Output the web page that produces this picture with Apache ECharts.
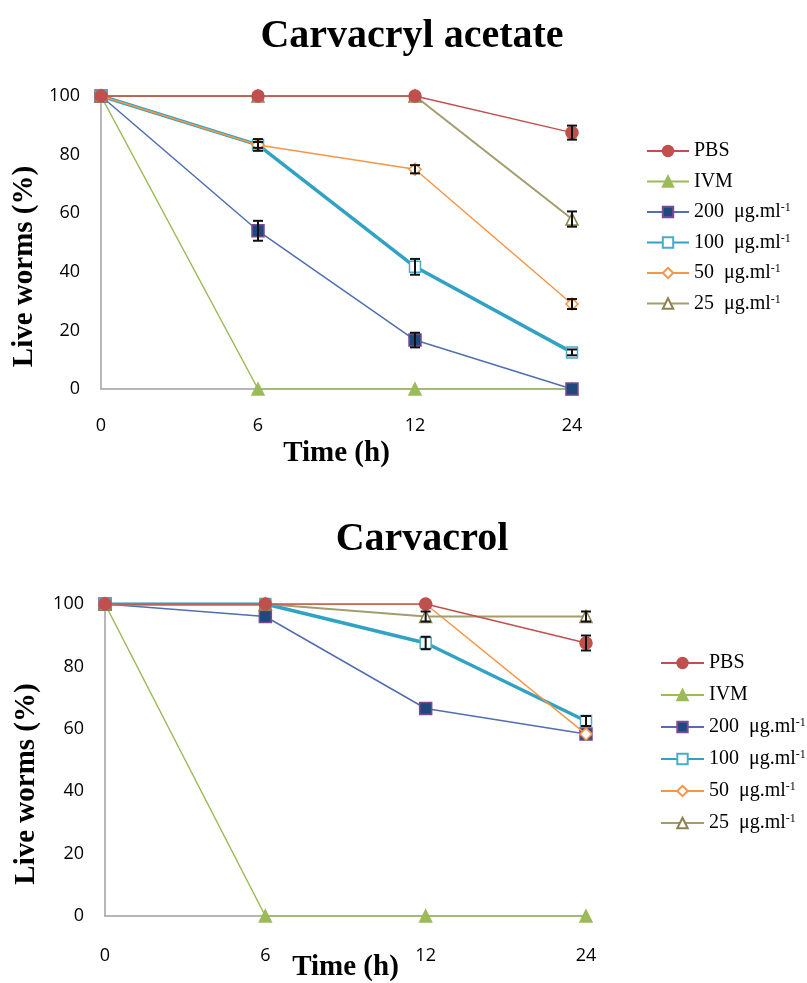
<!DOCTYPE html>
<html>

<head>
    <meta charset="UTF-8">
    <title>Carvacryl acetate / Carvacrol</title>
    <script src="https://cdn.jsdelivr.net/npm/echarts@6/dist/echarts.min.js"></script>
    <style>
        body { margin: 0; background: #fff; }
    </style>
</head>

<body>
    <div id="main" style="width: 807px; height: 983px;"></div>

    <script>
        // time points (h), shown as evenly spaced categories
        var hours = ['0', '6', '12', '24'];
        var yTicks = [0, 20, 40, 60, 80, 100];

        var names = ['PBS', 'IVM', '200  μg.ml-1', '100  μg.ml-1', '50  μg.ml-1', '25  μg.ml-1'];

        // Carvacryl acetate (top)
        var acetatePBS = [100, 100, 100, 87.5];
        var acetateIVM = [100, 0, 0, 0];
        var acetate200 = [100, 54, 16.7, 0];
        var acetate100 = [100, 83.3, 41.7, 12.5];
        var acetate50 = [100, 83.3, 75, 29];
        var acetate25 = [100, 100, 100, 58];

        var acetatePBSErr = [0, 0, 0, 2.4];
        var acetateIVMErr = [0, 0, 0, 0];
        var acetate200Err = [0, 3.4, 2.5, 0];
        var acetate100Err = [0, 2, 2.7, 1];
        var acetate50Err = [0, 1, 1.4, 1.7];
        var acetate25Err = [0, 0, 0, 2.6];

        // Carvacrol (bottom)
        var carvacrolPBS = [100, 100, 100, 87.5];
        var carvacrolIVM = [100, 0, 0, 0];
        var carvacrol200 = [100, 96, 66.5, 58.3];
        var carvacrol100 = [100, 100, 87.5, 62.5];
        var carvacrol50 = [100, 100, 100, 58.3];
        var carvacrol25 = [100, 100, 96, 96];

        var carvacrolPBSErr = [0, 0, 0, 2.4];
        var carvacrolIVMErr = [0, 0, 0, 0];
        var carvacrol200Err = [0, 0, 0, 0];
        var carvacrol100Err = [0, 0, 2, 1.6];
        var carvacrol50Err = [0, 0, 0, 0];
        var carvacrol25Err = [0, 0, 1.6, 1.6];

        var acetate = [acetatePBS, acetateIVM, acetate200, acetate100, acetate50, acetate25];
        var acetateErr = [acetatePBSErr, acetateIVMErr, acetate200Err, acetate100Err, acetate50Err, acetate25Err];
        var carvacrol = [carvacrolPBS, carvacrolIVM, carvacrol200, carvacrol100, carvacrol50, carvacrol25];
        var carvacrolErr = [carvacrolPBSErr, carvacrolIVMErr, carvacrol200Err, carvacrol100Err, carvacrol50Err, carvacrol25Err];

        // look of each treatment line
        var looks = [
            { line: '#C0504D', width: 1.5, symbol: 'circle', size: 12, fill: '#C0504D', border: '#C0504D', z: 2.6 },
            { line: '#9BBB59', width: 1.5, symbol: 'triangle', size: 12, fill: '#9BBB59', border: '#9BBB59', z: 2.1 },
            { line: '#4F6FB0', width: 1.5, symbol: 'rect', size: 12, fill: '#1F497D', border: '#7A4A96', z: 2.2 },
            { line: '#31A2C4', width: 3.5, symbol: 'rect', size: 11, fill: '#ffffff', border: '#4BACC6', z: 2.3 },
            { line: '#F79646', width: 1.5, symbol: 'diamond', size: 12, fill: '#ffffff', border: '#F79646', z: 2.4 },
            { line: '#A39D6E', width: 2, symbol: 'triangle', size: 12, fill: '#ffffff', border: '#8C8250', z: 2.5 }
        ];

        var serif = 'Liberation Serif';
        var sans = 'Open Sans';

        var myChart = echarts.init(document.getElementById('main'), null, { renderer: 'canvas' });

        function lineSeries(values, idx, k) {
            var s = looks[k];
            return {
                name: names[k],
                type: 'line',
                xAxisIndex: idx,
                yAxisIndex: idx,
                data: values,
                symbol: s.symbol,
                symbolSize: s.size,
                showAllSymbol: true,
                lineStyle: { color: s.line, width: s.width },
                itemStyle: { color: s.fill, borderColor: s.border, borderWidth: 1.5 },
                emphasis: { disabled: true },
                z: s.z
            };
        }

        function errSeries(values, errs, idx) {
            var data = [];
            for (var i = 0; i < values.length; i++) {
                if (errs[i] > 0) data.push([i, values[i] - errs[i], values[i] + errs[i]]);
            }
            return {
                name: 'err',
                type: 'custom',
                xAxisIndex: idx,
                yAxisIndex: idx,
                z: 5,
                silent: true,
                data: data,
                renderItem: function (params, api) {
                    var lo = api.coord([api.value(0), api.value(1)]);
                    var hi = api.coord([api.value(0), api.value(2)]);
                    var w = 5;
                    var st = { stroke: '#111', lineWidth: 2 };
                    return {
                        type: 'group',
                        children: [
                            { type: 'line', shape: { x1: lo[0], y1: lo[1], x2: hi[0], y2: hi[1] }, style: st },
                            { type: 'line', shape: { x1: lo[0] - w, y1: lo[1], x2: lo[0] + w, y2: lo[1] }, style: st },
                            { type: 'line', shape: { x1: hi[0] - w, y1: hi[1], x2: hi[0] + w, y2: hi[1] }, style: st }
                        ]
                    };
                }
            };
        }

        function xAxis(idx, labelMargin, nameGap) {
            return {
                type: 'category',
                gridIndex: idx,
                data: hours,
                boundaryGap: false,
                axisLine: { lineStyle: { color: '#A0A0A0', width: 1.5 } },
                axisTick: { show: false },
                axisLabel: { margin: labelMargin, color: '#000', fontFamily: sans, fontSize: 18 },
                name: 'Time (h)',
                nameLocation: 'middle',
                nameGap: nameGap,
                nameMoveOverlap: false,
                nameTextStyle: { color: '#000', fontFamily: serif, fontWeight: 'bold', fontSize: 29 }
            };
        }

        function yAxis(idx, nameGap) {
            return {
                type: 'value',
                gridIndex: idx,
                min: yTicks[0],
                max: yTicks[yTicks.length - 1],
                interval: yTicks[1] - yTicks[0],
                axisLine: { show: true, lineStyle: { color: '#A0A0A0', width: 1.5 } },
                axisTick: { show: false },
                splitLine: { show: false },
                axisLabel: { margin: 21, color: '#000', fontFamily: sans, fontSize: 18 },
                name: 'Live worms (%)',
                nameLocation: 'middle',
                nameGap: nameGap,
                nameMoveOverlap: false,
                nameTextStyle: {
                    color: '#000', fontFamily: serif, fontWeight: 'bold', fontSize: 29,
                    padding: [0, 48, 0, 0]
                }
            };
        }

        function legend(left, top, gap, width) {
            return {
                left: left,
                top: top,
                orient: 'vertical',
                itemWidth: width,
                itemHeight: 13,
                itemGap: gap,
                data: names,
                selectedMode: false,
                formatter: function (n) {
                    if (n.indexOf('-1') > 0) return '{t|' + n.replace('-1', '') + '}{s|-1}';
                    return '{t|' + n + '}';
                },
                textStyle: {
                    rich: {
                        t: { fontFamily: serif, fontSize: 20, color: '#000', lineHeight: 20 },
                        s: { fontFamily: serif, fontSize: 12, color: '#000', lineHeight: 20, verticalAlign: 'top', padding: [0, 0, 8, 0] }
                    }
                }
            };
        }

        var series = [];
        for (var k = 0; k < 6; k++) series.push(lineSeries(acetate[k], 0, k));
        for (var k2 = 0; k2 < 6; k2++) series.push(lineSeries(carvacrol[k2], 1, k2));
        for (var e = 0; e < 6; e++) {
            series.push(errSeries(acetate[e], acetateErr[e], 0));
            series.push(errSeries(carvacrol[e], carvacrolErr[e], 1));
        }

        var option = {
            animation: false,
            backgroundColor: '#fff',
            title: [
                {
                    text: 'Carvacryl acetate',
                    left: 407, top: 12, textAlign: 'center',
                    textStyle: { fontFamily: serif, fontWeight: 'bold', fontSize: 40, color: '#000' }
                },
                {
                    text: 'Carvacrol',
                    left: 417, top: 515, textAlign: 'center',
                    textStyle: { fontFamily: serif, fontWeight: 'bold', fontSize: 40, color: '#000' }
                }
            ],
            legend: [legend(641, 136, 10.5, 42), legend(655, 648, 12, 43)],
            grid: [
                { left: 101, width: 471, top: 96, height: 293, outerBoundsMode: 'none' },
                { left: 105, width: 481, top: 604, height: 312, outerBoundsMode: 'none' }
            ],
            xAxis: [xAxis(0, 28, 50), xAxis(1, 31, 37)],
            yAxis: [yAxis(0, 62), yAxis(1, 64)],
            series: series
        };

        myChart.setOption(option);
    </script>
</body>

</html>
